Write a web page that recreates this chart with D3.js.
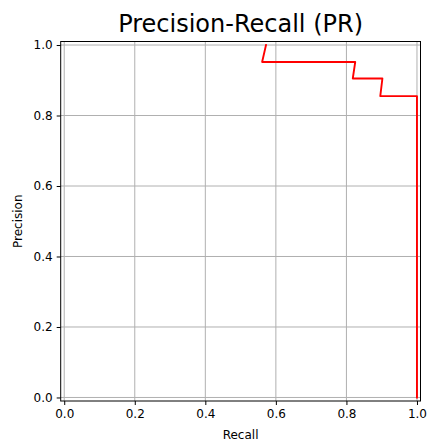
<!DOCTYPE html>
<html>
<head>
<meta charset="utf-8">
<script src="https://cdn.jsdelivr.net/npm/d3@7"></script>
<style>
  html, body { margin: 0; padding: 0; background: #fff; }
  svg { display: block; font-family: "DejaVu Sans", sans-serif; }
</style>
</head>
<body>
<svg id="chart" width="428" height="441"></svg>
<script>
// Precision-recall curve points
const recall    = [0.572, 0.561, 0.825, 0.818, 0.902, 0.896, 1.0, 1.0];
const precision = [1.0,   0.952, 0.952, 0.905, 0.905, 0.855, 0.855, 0.0];
const xTicks = [0.0, 0.2, 0.4, 0.6, 0.8, 1.0];
const yTicks = [0.0, 0.2, 0.4, 0.6, 0.8, 1.0];
const titleText = "Precision-Recall (PR)";
const xLabel = "Recall";
const yLabel = "Precision";

(function () {
  const svg = d3.select("#chart");
  const plotL = 60.7, plotR = 420.5, plotT = 41.5, plotB = 401;

  const x = d3.scaleLinear().domain([-0.01, 1.01]).range([plotL, plotR]);
  const y = d3.scaleLinear().domain([-0.01, 1.01]).range([plotB, plotT]);

  // grid
  const grid = svg.append("g").attr("stroke", "#b0b0b0").attr("stroke-width", 1);
  grid.selectAll("line.vx").data(xTicks).join("line").attr("class", "vx")
    .attr("x1", d => x(d)).attr("x2", d => x(d))
    .attr("y1", plotT).attr("y2", plotB);
  grid.selectAll("line.hy").data(yTicks).join("line").attr("class", "hy")
    .attr("y1", d => y(d)).attr("y2", d => y(d))
    .attr("x1", plotL).attr("x2", plotR);

  // curve, clipped to the plot area
  const clipId = "plot-clip";
  svg.append("clipPath").attr("id", clipId).append("rect")
    .attr("x", plotL).attr("y", plotT).attr("width", plotR - plotL).attr("height", plotB - plotT);

  const pts = recall.map((r, i) => [r, precision[i]]);
  svg.append("path")
    .datum(pts)
    .attr("clip-path", `url(#${clipId})`)
    .attr("fill", "none")
    .attr("stroke", "#ff0000")
    .attr("stroke-width", 1.9)
    .attr("stroke-linecap", "square")
    .attr("stroke-linejoin", "round")
    .attr("d", d3.line().x(d => x(d[0])).y(d => y(d[1])));

  // axes
  const fmt = d3.format(".1f");
  const xAxis = svg.append("g").attr("transform", `translate(0,${plotB})`)
    .call(d3.axisBottom(x).tickValues(xTicks).tickFormat(fmt).tickSize(4).tickPadding(4).tickSizeOuter(0));
  const yAxis = svg.append("g").attr("transform", `translate(${plotL},0)`)
    .call(d3.axisLeft(y).tickValues(yTicks).tickFormat(fmt).tickSize(4).tickPadding(4).tickSizeOuter(0));
  [xAxis, yAxis].forEach(g => {
    g.select(".domain").remove();
    g.selectAll(".tick line").attr("stroke", "#000").attr("stroke-width", 1);
    g.selectAll(".tick text").attr("fill", "#000").style("font-size", "12px")
      .style("font-family", "'DejaVu Sans', sans-serif");
  });

  // frame
  svg.append("rect")
    .attr("x", plotL).attr("y", plotT).attr("width", plotR - plotL).attr("height", plotB - plotT)
    .attr("fill", "none").attr("stroke", "#000").attr("stroke-width", 1);

  // labels
  svg.append("text").attr("x", (plotL + plotR) / 2).attr("y", 32)
    .attr("text-anchor", "middle").style("font-size", "24px").attr("fill", "#000")
    .text(titleText);
  svg.append("text").attr("x", (plotL + plotR) / 2).attr("y", 438.5)
    .attr("text-anchor", "middle").style("font-size", "12px").attr("fill", "#000")
    .text(xLabel);
  svg.append("text")
    .attr("transform", `translate(21.5,${(plotT + plotB) / 2}) rotate(-90)`)
    .attr("text-anchor", "middle").style("font-size", "12px").attr("fill", "#000")
    .text(yLabel);
})();
</script>
</body>
</html>
